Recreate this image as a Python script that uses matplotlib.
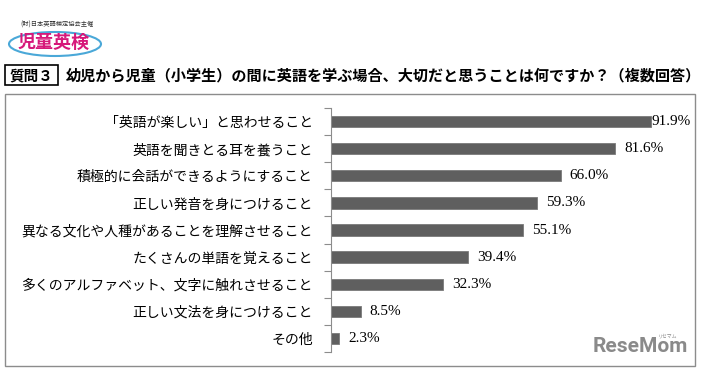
import matplotlib.pyplot as plt
from matplotlib.patches import Rectangle, Ellipse

plt.rcParams['font.family'] = ['Noto Sans CJK JP', 'DejaVu Sans']

# データ
labels = [
    "「英語が楽しい」と思わせること",
    "英語を聞きとる耳を養うこと",
    "積極的に会話ができるようにすること",
    "正しい発音を身につけること",
    "異なる文化や人種があることを理解させること",
    "たくさんの単語を覚えること",
    "多くのアルファベット、文字に触れさせること",
    "正しい文法を身につけること",
    "その他",
]
values = [91.9, 81.6, 66.0, 59.3, 55.1, 39.4, 32.3, 8.5, 2.3]
value_text = ["91.9%", "81.6%", "66.0%", "59.3%", "55.1%", "39.4%", "32.3%", "8.5%", "2.3%"]

title = "幼児から児童（小学生）の間に英語を学ぶ場合、大切だと思うことは何ですか？（複数回答）"

W, H = 701, 373
fig = plt.figure(figsize=(W / 100, H / 100), dpi=100)
fig.patch.set_facecolor("white")


def fx(px):
    return px / W


def fy(py):
    return 1 - py / H


# 外枠
fig.add_artist(Rectangle((fx(5), fy(366)), fx(690), 272 / H, transform=fig.transFigure,
                         fill=False, edgecolor="#8c8c8c", lw=1.0))

# 質問ボックス
fig.add_artist(Rectangle((fx(5), fy(85)), fx(53), 20 / H, transform=fig.transFigure,
                         fill=False, edgecolor="black", lw=1.2))
fig.text(fx(31), fy(75), "質問３", ha="center", va="center", fontsize=10.5, fontweight="bold")
fig.text(fx(66), fy(75), title, ha="left", va="center", fontsize=10.9, fontweight="bold")

# ロゴ
fig.add_artist(Ellipse((fx(55), fy(44)), fx(92), 24 / H, transform=fig.transFigure,
                       fill=False, edgecolor="#4aa8d8", lw=1.5))
fig.text(fx(57), fy(25), "(財)日本英語検定協会主催", ha="center", va="center", fontsize=4.5, color="#333333")
fig.text(fx(54), fy(42), "児童英検", ha="center", va="center", fontsize=13, fontweight="bold",
         color="#d6187a")

fig.text(fx(640), fy(347), "ReseMom", ha="center", va="center", fontsize=15, fontweight="bold",
         color="#8a8a8a", family=["Roboto", "DejaVu Sans"])
fig.text(fx(668), fy(336), "リセマム", ha="center", va="center", fontsize=3.5, color="#8a8a8a")

# 棒グラフ
ax = fig.add_axes([fx(331), fy(352), fx(348), 244 / H])
y = list(range(len(labels)))
ax.barh(y, values, height=0.42, color="#5f5f5f", edgecolor="#7a7a7a", linewidth=0.6)
ax.set_xlim(0, 100)
ax.set_ylim(len(labels) - 0.5, -0.5)

# ラベルは棒の右に少し離して置く（右端は枠に収める）
for yi, v, t in zip(y, values, value_text):
    ax.text(min(v + 2.6, 92.2), yi, t, ha="left", va="center", fontsize=11,
            family=["Liberation Serif", "DejaVu Serif"])

ax.set_yticks(y)
ax.set_yticklabels(labels, fontsize=10)
ax.tick_params(axis="y", which="major", length=0, pad=13)
ax.set_yticks([i - 0.5 for i in range(len(labels) + 1)], minor=True)
ax.tick_params(axis="y", which="minor", length=5, color="#8c8c8c", width=0.8)
ax.set_xticks([])
for s in ["top", "right", "bottom"]:
    ax.spines[s].set_visible(False)
ax.spines["left"].set_color("#8c8c8c")
ax.spines["left"].set_linewidth(0.8)
ax.set_facecolor("none")

fig.savefig("out.png", dpi=100, facecolor="white")
